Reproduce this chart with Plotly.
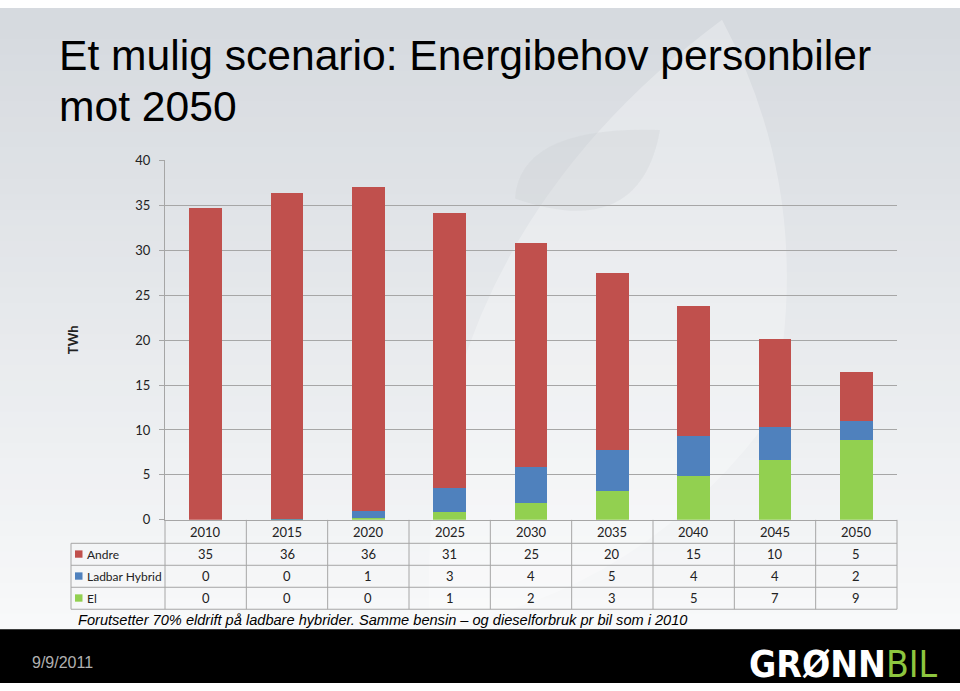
import plotly.graph_objects as go

# ---------------- data ----------------
years = ["2010", "2015", "2020", "2025", "2030", "2035", "2040", "2045", "2050"]
series_names = ["El", "Ladbar Hybrid", "Andre"]
el = [0.0, 0.02, 0.25, 0.9, 1.85, 3.2, 4.85, 6.7, 8.9]
hybrid = [0.0, 0.05, 0.75, 2.7, 4.0, 4.6, 4.45, 3.6, 2.15]
andre = [34.75, 36.25, 36.0, 30.6, 25.0, 19.7, 14.5, 9.85, 5.4]

# values as printed in the data table
andre_tbl = [35, 36, 36, 31, 25, 20, 15, 10, 5]
hybrid_tbl = [0, 0, 1, 3, 4, 5, 4, 4, 2]
el_tbl = [0, 0, 0, 1, 2, 3, 5, 7, 9]

y_ticks = [0, 5, 10, 15, 20, 25, 30, 35, 40]

title_line1 = "Et mulig scenario: Energibehov personbiler"
title_line2 = "mot 2050"
footnote = "Forutsetter 70% eldrift på ladbare hybrider. Samme bensin – og dieselforbruk pr bil som i 2010"
date_text = "9/9/2011"

# ---------------- layout helpers ----------------
W, H = 960, 691
def X(p):
    return p / W
def Y(p):
    return 1 - p / H

PL, PR, PT, PB = 165, 897, 156, 524
RED, BLUE, GREEN = "#C0504D", "#4F81BD", "#92D050"
GRID = "#A6A6A6"
FONT = "Lato"

fig = go.Figure()
xs = list(range(len(years)))
for name, vals, col in [("El", el, GREEN), ("Ladbar Hybrid", hybrid, BLUE), ("Andre", andre, RED)]:
    fig.add_trace(go.Bar(x=xs, y=vals, name=name, marker=dict(color=col, line=dict(width=0)),
                         width=0.4, showlegend=False, hoverinfo="skip"))

shapes = []
# background gradient
n = 40
top_c = (214, 218, 223)
bot_c = (248, 249, 250)
for i in range(n):
    t = i / (n - 1)
    c = tuple(int(top_c[k] + (bot_c[k] - top_c[k]) * t) for k in range(3))
    shapes.append(dict(type="rect", xref="paper", yref="paper", x0=0, x1=1,
                       y0=Y(636 * (i + 1) / n + 1), y1=Y(636 * i / n),
                       fillcolor="rgb(%d,%d,%d)" % c, line=dict(width=0), layer="below"))
# faint watermark
shapes.append(dict(type="path", xref="paper", yref="paper", layer="below",
                   path="M %f,%f Q %f,%f %f,%f Q %f,%f %f,%f Q %f,%f %f,%f Z" % (
                       X(430), Y(636), X(410), Y(250), X(722), Y(12),
                       X(820), Y(200), X(770), Y(420), X(640), Y(600), X(430), Y(636)),
                   fillcolor="rgba(255,255,255,0.28)", line=dict(width=0)))
shapes.append(dict(type="path", xref="paper", yref="paper", layer="below",
                   path="M %f,%f Q %f,%f %f,%f Q %f,%f %f,%f Z" % (
                       X(515), Y(195), X(520), Y(120), X(660), Y(125),
                       X(640), Y(240), X(515), Y(195)),
                   fillcolor="rgba(200,205,210,0.28)", line=dict(width=0)))
# footer
shapes.append(dict(type="rect", xref="paper", yref="paper", x0=0, x1=1, y0=0, y1=Y(636),
                   fillcolor="black", line=dict(width=0), layer="below"))

# ---------------- data table ----------------
ncol = len(years)
colw = (PR - PL) / ncol
rows_y = [524, 548, 570.5, 593, 615.5]
lc = dict(color=GRID, width=1)
for k in range(ncol + 1):
    xp = PL + k * colw
    shapes.append(dict(type="line", xref="paper", yref="paper", x0=X(xp), x1=X(xp),
                       y0=Y(rows_y[0]), y1=Y(rows_y[-1]), line=lc))
shapes.append(dict(type="line", xref="paper", yref="paper", x0=X(71), x1=X(71),
                   y0=Y(rows_y[1]), y1=Y(rows_y[-1]), line=lc))
for yy in rows_y[1:]:
    shapes.append(dict(type="line", xref="paper", yref="paper", x0=X(71), x1=X(PR),
                       y0=Y(yy), y1=Y(yy), line=lc))

annotations = []
row_defs = [("Andre", andre_tbl, RED), ("Ladbar Hybrid", hybrid_tbl, BLUE), ("El", el_tbl, GREEN)]
for j, yr in enumerate(years):
    annotations.append(dict(x=j, xref="x", y=Y((rows_y[0] + rows_y[1]) / 2), yref="paper",
                            text=yr, showarrow=False, xanchor="center", yanchor="middle",
                            font=dict(family=FONT, size=13, color="#222")))
for r, (lab, vals, col) in enumerate(row_defs):
    yc = (rows_y[r + 1] + rows_y[r + 2]) / 2
    shapes.append(dict(type="rect", xref="paper", yref="paper", x0=X(75), x1=X(82.5),
                       y0=Y(yc + 3.5), y1=Y(yc - 4), fillcolor=col, line=dict(width=0)))
    annotations.append(dict(x=X(85), xref="paper", y=Y(yc), yref="paper", text=lab,
                            showarrow=False, xanchor="left", yanchor="middle",
                            font=dict(family=FONT, size=12, color="#222")))
    for j, v in enumerate(vals):
        annotations.append(dict(x=j, xref="x", y=Y(yc), yref="paper", text=str(v),
                                showarrow=False, xanchor="center", yanchor="middle",
                                font=dict(family=FONT, size=13, color="#222")))

# titles and texts
annotations.append(dict(x=X(57), y=Y(48), xref="paper", yref="paper", text=title_line1,
                        showarrow=False, xanchor="left", yanchor="middle",
                        font=dict(family="Liberation Sans", size=42.6, color="black")))
annotations.append(dict(x=X(57), y=Y(100), xref="paper", yref="paper", text=title_line2,
                        showarrow=False, xanchor="left", yanchor="middle",
                        font=dict(family="Liberation Sans", size=42.6, color="black")))
annotations.append(dict(x=X(73), y=Y(340), xref="paper", yref="paper", text="<b>TWh</b>",
                        textangle=-90, showarrow=False, xanchor="center", yanchor="middle",
                        font=dict(family=FONT, size=13, color="#222")))
annotations.append(dict(x=X(76), y=Y(627), xref="paper", yref="paper", text="<i>" + footnote + "</i>",
                        showarrow=False, xanchor="left", yanchor="middle",
                        font=dict(family="Liberation Sans", size=14.6, color="black")))
annotations.append(dict(x=X(30), y=Y(670), xref="paper", yref="paper", text=date_text,
                        showarrow=False, xanchor="left", yanchor="middle",
                        font=dict(family="Liberation Sans", size=16, color="#B0B0B0")))
annotations.append(dict(x=X(940), y=Y(672), xref="paper", yref="paper",
                        text="<b><span style='color:white'>GRØNN</span></b><span style='color:#8DC63F'>BIL</span>",
                        showarrow=False, xanchor="right", yanchor="middle",
                        font=dict(family="DejaVu Sans Condensed", size=37, color="white")))

fig.update_layout(
    width=W, height=H, autosize=False,
    margin=dict(l=0, r=0, t=0, b=0),
    paper_bgcolor="white", plot_bgcolor="rgba(0,0,0,0)",
    barmode="stack",
    xaxis=dict(domain=[X(PL), X(PR)], range=[-0.5, ncol - 0.5], showticklabels=False,
               showgrid=False, zeroline=False, showline=True, linecolor=GRID, linewidth=1,
               ticks="", fixedrange=True),
    yaxis=dict(domain=[Y(PB), Y(PT)], range=[0, 40], tickvals=y_ticks,
               showgrid=True, gridcolor=GRID, gridwidth=1, zeroline=False,
               showline=True, linecolor=GRID, linewidth=1, ticks="outside", ticklen=5,
               tickcolor=GRID, ticklabelstandoff=6, fixedrange=True,
               tickfont=dict(family=FONT, size=13, color="#222")),
    shapes=shapes, annotations=annotations, showlegend=False,
)

post = (
    "document.documentElement.style.margin='0';"
    "document.documentElement.style.padding='0';"
    "document.documentElement.style.overflow='hidden';"
    "document.body.style.margin='0';"
    "document.body.style.padding='0';"
    "document.body.style.overflow='hidden';"
    "var d=document.getElementsByClassName('plotly-graph-div')[0];"
    "d.style.position='absolute';d.style.top='0px';d.style.left='0px';"
)
fig.write_html("out.html", config={"displayModeBar": False}, post_script=post)
